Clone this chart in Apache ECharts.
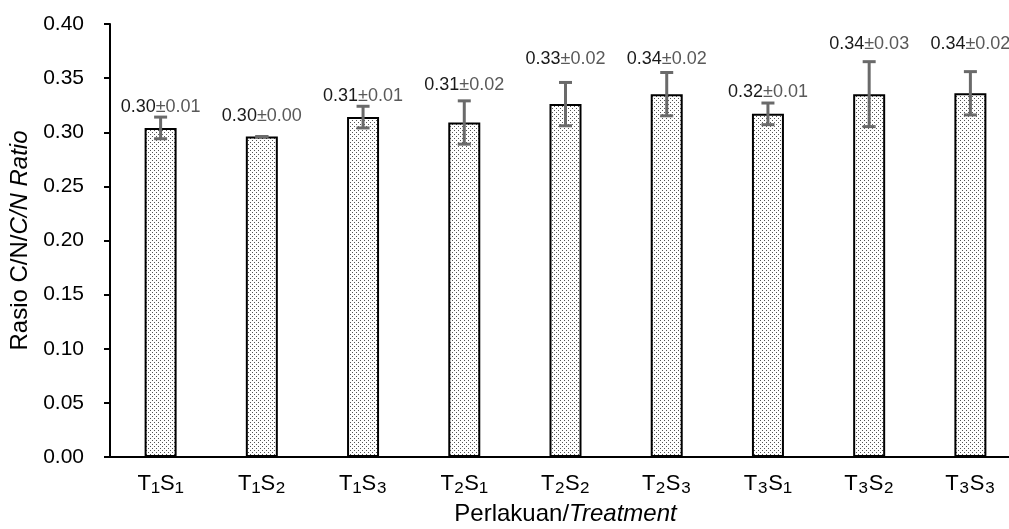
<!DOCTYPE html>
<html>
<head>
<meta charset="utf-8">
<script src="https://cdn.jsdelivr.net/npm/echarts@6/dist/echarts.min.js"></script>
<style>
html,body{margin:0;padding:0;background:#fff;}
#chart{width:1009px;height:529px;}
</style>
</head>
<body>
<div id="chart"></div>
<script>
// ---- data ----
var categories = ['T\u2081S\u2081','T\u2081S\u2082','T\u2081S\u2083','T\u2082S\u2081','T\u2082S\u2082','T\u2082S\u2083','T\u2083S\u2081','T\u2083S\u2082','T\u2083S\u2083'];
var means = [0.304, 0.296, 0.314, 0.309, 0.326, 0.3352, 0.317, 0.3352, 0.336];
var sds   = [0.010, 0.000, 0.010, 0.020, 0.020, 0.020, 0.010, 0.030, 0.020];
var yTicks = [0, 0.05, 0.10, 0.15, 0.20, 0.25, 0.30, 0.35, 0.40];

// ---- style ----
var FONT = '"Liberation Sans", Arial, "DejaVu Sans", sans-serif';
var labelLift = [10, 21, 10, 16, 23, 13, 11, 18, 28];

function makePattern(){
  var c = document.createElement('canvas');
  c.width = 4; c.height = 4;
  var g = c.getContext('2d');
  g.fillStyle = '#ffffff'; g.fillRect(0,0,4,4);
  g.fillStyle = '#555555';
  g.fillRect(0,0,1,1);
  g.fillRect(2,2,1,1);
  return c;
}

// split "T₁S₁" into main letters and subscript characters for rich text
function richCat(v){
  return v.replace(/([TS])([\u2080-\u2089])/g, '{m|$1}{s|$2}');
}

var chart = echarts.init(document.getElementById('chart'), null, {renderer:'canvas'});

var errData = categories.map(function(c,i){ return [i, means[i], sds[i]]; });

var option = {
  backgroundColor: '#ffffff',
  animation: false,
  grid: {left: 110, right: -12, top: 24, bottom: 72, containLabel: false, outerBoundsMode: 'none'},
  xAxis: {
    type: 'category',
    data: categories,
    axisLine: {lineStyle: {color: '#000', width: 2}},
    axisTick: {alignWithLabel: true, length: 6, lineStyle: {color: '#000', width: 2}},
    axisLabel: {
      margin: 14,
      interval: 0,
      formatter: function(v){ return richCat(v); },
      rich: {
        m: {fontFamily: FONT, fontSize: 22, color: '#000', lineHeight: 26},
        s: {fontFamily: FONT, fontSize: 27, color: '#000', lineHeight: 26}
      }
    },
    name: '{a|Perlakuan/}{b|Treatment}',
    nameLocation: 'middle',
    nameGap: 45,
    nameTextStyle: {
      rich: {
        a: {fontFamily: FONT, fontSize: 24, color: '#000'},
        b: {fontFamily: FONT, fontSize: 24, color: '#000', fontStyle: 'italic'}
      }
    }
  },
  yAxis: {
    type: 'value',
    min: 0, max: 0.40, interval: 0.05,
    axisLine: {show: true, lineStyle: {color: '#000', width: 2}},
    axisTick: {show: true, length: 6, lineStyle: {color: '#000', width: 2}},
    splitLine: {show: false},
    axisLabel: {
      fontFamily: FONT, fontSize: 21, color: '#000', margin: 26,
      formatter: function(v){ return v.toFixed(2); }
    },
    name: '{a|Rasio C/N/}{b|C/N Ratio}',
    nameLocation: 'middle',
    nameGap: 78,
    nameTextStyle: {
      rich: {
        a: {fontFamily: FONT, fontSize: 24, color: '#000'},
        b: {fontFamily: FONT, fontSize: 24, color: '#000', fontStyle: 'italic'}
      }
    }
  },
  series: [
    {
      type: 'bar',
      data: means,
      barWidth: 32,
      itemStyle: {
        color: {image: makePattern(), repeat: 'repeat'},
        borderColor: '#000',
        borderWidth: 2
      },
      z: 2
    },
    {
      type: 'custom',
      data: errData,
      encode: {x: 0, y: 1},
      z: 5,
      renderItem: function(params, api){
        var i = params.dataIndex;
        var x = api.value(0), m = api.value(1), s = api.value(2);
        var top = api.coord([x, m + s]);
        var bot = api.coord([x, m - s]);
        var cw = 6.5;
        var st = {stroke: '#6a6a6a', lineWidth: 3};
        return {
          type: 'group',
          children: [
            {type: 'line', shape: {x1: top[0], y1: top[1], x2: bot[0], y2: bot[1]}, style: st},
            {type: 'line', shape: {x1: top[0]-cw, y1: top[1], x2: top[0]+cw, y2: top[1]}, style: st},
            {type: 'line', shape: {x1: bot[0]-cw, y1: bot[1], x2: bot[0]+cw, y2: bot[1]}, style: st},
            {
              type: 'text',
              x: top[0], y: top[1] - labelLift[i],
              style: {
                text: '{a|' + m.toFixed(2) + '}{b|\u00b1' + s.toFixed(2) + '}',
                align: 'center', verticalAlign: 'middle',
                rich: {
                  a: {fontFamily: FONT, fontSize: 18, fill: '#1a1a1a'},
                  b: {fontFamily: FONT, fontSize: 18, fill: '#595959'}
                }
              }
            }
          ]
        };
      }
    }
  ]
};
chart.setOption(option);
</script>
</body>
</html>
